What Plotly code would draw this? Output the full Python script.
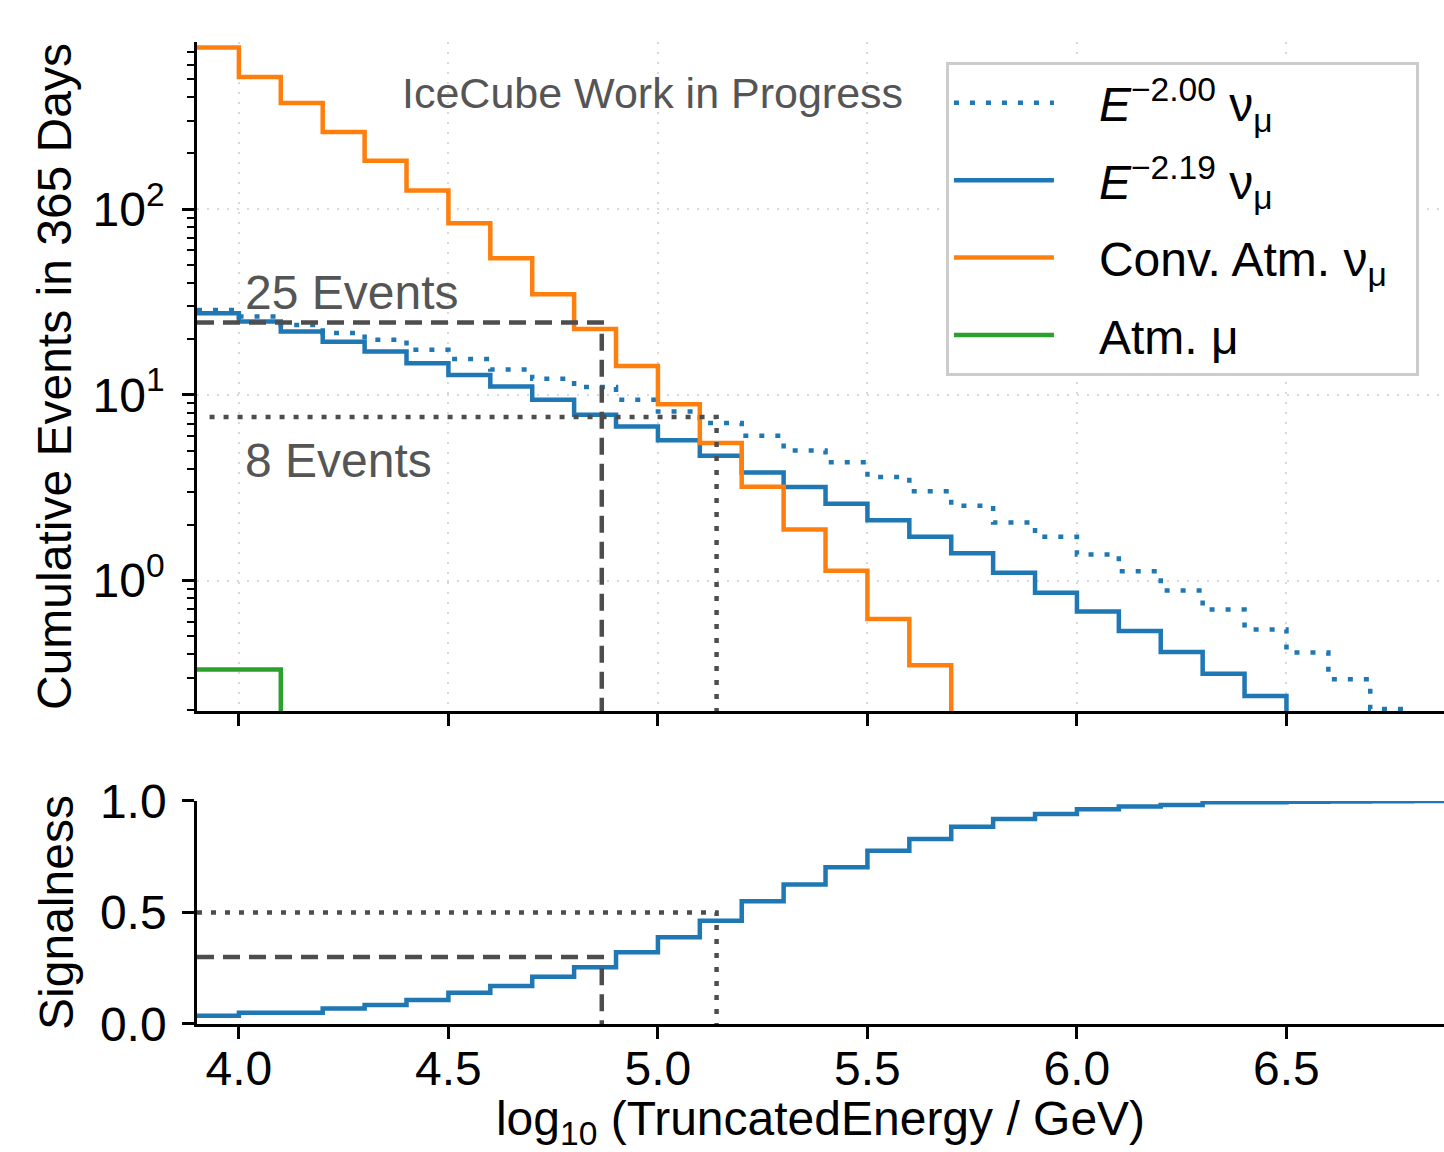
import plotly.graph_objects as go

# ---------------- data ----------------
bin_edges = [3.9, 4.0, 4.1, 4.2, 4.3, 4.4, 4.5, 4.6, 4.7, 4.8, 4.9, 5.0, 5.1, 5.2, 5.3,
             5.4, 5.5, 5.6, 5.7, 5.8, 5.9, 6.0, 6.1, 6.2, 6.3, 6.4, 6.5, 6.6, 6.7, 6.8, 6.9]

# cumulative events in 365 days, per lower bin edge
astro_e200 = [28.6, 26.4, 23.8, 21.5, 19.8, 17.5, 15.6, 13.7, 12.2, 11.0, 9.4, 8.13, 7.05,
              6.02, 5.02, 4.33, 3.61, 3.02, 2.53, 2.05, 1.72, 1.38, 1.12, 0.884, 0.698,
              0.545, 0.409, 0.294, 0.203, 0.15]
astro_e219 = [27.5, 24.8, 21.9, 19.3, 17.1, 14.8, 12.8, 11.1, 9.4, 7.8, 6.76, 5.7, 4.7,
              3.82, 3.19, 2.59, 2.11, 1.72, 1.40, 1.10, 0.86, 0.68, 0.534, 0.412, 0.315,
              0.239, 0.18]
conv_atm = [741, 514, 373, 260, 182, 126, 83.8, 54.3, 34.8, 22.6, 14.3, 8.9, 5.5, 3.2,
            1.88, 1.13, 0.62, 0.35, 0.17]
atm_mu = [0.332, 0.332, 0.1]

signalness = [0.037, 0.051, 0.051, 0.070, 0.085, 0.108, 0.140, 0.170, 0.212, 0.254,
              0.322, 0.389, 0.463, 0.550, 0.625, 0.703, 0.777, 0.830, 0.885, 0.919,
              0.942, 0.963, 0.975, 0.982, 0.994, 0.994, 0.997, 0.998, 0.999, 1.0]

# reference cuts
cut_25_x, cut_25_events, cut_25_signal = 4.866, 24.5, 0.30
cut_8_x, cut_8_events, cut_8_signal = 5.14, 7.6, 0.50

x_ticks = [4.0, 4.5, 5.0, 5.5, 6.0, 6.5]
y_ticks = [1, 10, 100]
y_ticktext = ["10<sup>0</sup>", "10<sup>1</sup>", "10<sup>2</sup>"]
y_minor_ticks = [0.2, 0.3, 0.4, 0.5, 0.6, 0.7, 0.8, 0.9,
                 2, 3, 4, 5, 6, 7, 8, 9,
                 20, 30, 40, 50, 60, 70, 80, 90,
                 200, 300, 400, 500, 600, 700]
y2_ticks = [0.0, 0.5, 1.0]

# ---------------- styling ----------------
BLUE = "#1f77b4"
ORANGE = "#ff7f0e"
GREEN = "#2ca02c"
REF = "#4d4d4d"
FONT = "Liberation Sans, Arial, Helvetica, sans-serif"
FS = 48
LW = 4.5
PAD = "\u2002\u2004"
TAIL = "\u2002"


def step_xy(values):
    xs = bin_edges[:len(values) + 1]
    ys = list(values) + [values[-1]]
    return xs, ys


fig = go.Figure()

series = [
    ("<i>E</i><sup>−2.00</sup> ν<sub>μ</sub>", astro_e200, BLUE, "5px,11px"),
    ("<i>E</i><sup>−2.19</sup> ν<sub>μ</sub>", astro_e219, BLUE, "solid"),
    ("Conv. Atm. ν<sub>μ</sub>", conv_atm, ORANGE, "solid"),
    ("Atm. μ", atm_mu, GREEN, "solid"),
]
for i, (name, vals, color, dash) in enumerate(series):
    xs, ys = step_xy(vals)
    fig.add_trace(go.Scatter(x=xs, y=ys, mode="lines", name=PAD + name + TAIL,
                             legendgroup=f"g{i}",
                             line=dict(color=color, width=LW, dash=dash, shape="hv"),
                             xaxis="x", yaxis="y"))

# reference lines top panel
fig.add_trace(go.Scatter(x=[bin_edges[0], cut_25_x, cut_25_x], y=[cut_25_events, cut_25_events, 0.05],
                         mode="lines", showlegend=False,
                         line=dict(color=REF, width=LW, dash="17px,9px"), xaxis="x", yaxis="y"))
fig.add_trace(go.Scatter(x=[bin_edges[0] + 0.03, cut_8_x, cut_8_x], y=[cut_8_events, cut_8_events, 0.05],
                         mode="lines", showlegend=False,
                         line=dict(color=REF, width=LW, dash="5px,9px"), xaxis="x", yaxis="y"))

# signalness panel
xs, ys = step_xy(signalness)
fig.add_trace(go.Scatter(x=xs, y=ys, mode="lines", showlegend=False,
                         line=dict(color=BLUE, width=LW, shape="hv"), xaxis="x2", yaxis="y2"))
fig.add_trace(go.Scatter(x=[bin_edges[0], cut_25_x, cut_25_x], y=[cut_25_signal, cut_25_signal, 0],
                         mode="lines", showlegend=False,
                         line=dict(color=REF, width=LW, dash="17px,9px"), xaxis="x2", yaxis="y2"))
fig.add_trace(go.Scatter(x=[bin_edges[0], cut_8_x, cut_8_x], y=[cut_8_signal, cut_8_signal, 0],
                         mode="lines", showlegend=False,
                         line=dict(color=REF, width=LW, dash="5px,9px"), xaxis="x2", yaxis="y2"))

x_range = [3.9, 6.876]
axis_common = dict(showline=True, linecolor="black", linewidth=2.5, ticks="outside",
                   ticklen=12, tickwidth=2.5, tickcolor="black", zeroline=False,
                   tickfont=dict(family=FONT, size=FS, color="black"))

fig.update_layout(
    width=1444, height=1152,
    margin=dict(l=197, r=0, t=42, b=128),
    paper_bgcolor="white", plot_bgcolor="white",
    font=dict(family=FONT, size=FS, color="black"),
    xaxis=dict(domain=[0, 1], anchor="y", range=x_range, tickvals=x_ticks,
               showticklabels=False, showgrid=True, gridcolor="#d9d9d9", gridwidth=2,
               griddash="2px,8px", **axis_common),
    yaxis=dict(domain=[0.3187, 1.0], anchor="x", type="log", range=[-0.703, 2.90],
               tickvals=y_ticks, ticktext=y_ticktext, showgrid=True, gridcolor="#d9d9d9",
               gridwidth=2, griddash="2px,8px", ticklabelstandoff=8,
               minor=dict(tickvals=y_minor_ticks, ticks="outside", ticklen=7,
                          tickwidth=1.5, tickcolor="black", showgrid=False),
               title=dict(text="Cumulative Events in 365 Days", standoff=6,
                          font=dict(family=FONT, size=FS, color="black")),
               **axis_common),
    xaxis2=dict(domain=[0, 1], anchor="y2", range=x_range, tickvals=x_ticks,
                tickformat=".1f", showgrid=False, matches="x", ticklabelstandoff=-11,
                title=dict(text="log<sub>10</sub> (TruncatedEnergy / GeV)", standoff=11,
                           font=dict(family=FONT, size=FS, color="black")),
                **axis_common),
    yaxis2=dict(domain=[0, 0.2271], anchor="x2", range=[0, 1], tickvals=y2_ticks,
                tickformat=".1f", showgrid=False, ticklabelstandoff=6,
                title=dict(text="Signalness", standoff=12,
                           font=dict(family=FONT, size=FS, color="black")),
                **axis_common),
    legend=dict(x=0.6006, y=0.9796, xanchor="left", yanchor="top",
                bgcolor="white", bordercolor="#cccccc", borderwidth=3,
                font=dict(family=FONT, size=FS, color="black"),
                itemwidth=100, tracegroupgap=12, traceorder="grouped"),
    annotations=[
        dict(text="IceCube Work in Progress", xref="paper", yref="paper", x=0.365, y=0.948,
             xanchor="center", yanchor="middle", showarrow=False,
             font=dict(family=FONT, size=43, color="#555555")),
        dict(text="25 Events", xref="paper", yref="paper", x=(243 - 197) / 1247,
             y=(1024 - 292) / 982, xanchor="left", yanchor="middle", showarrow=False,
             font=dict(family=FONT, size=FS, color="#555555")),
        dict(text="8 Events", xref="paper", yref="paper", x=(243 - 197) / 1247,
             y=(1024 - 460) / 982, xanchor="left", yanchor="middle", showarrow=False,
             font=dict(family=FONT, size=FS, color="#555555")),
    ],
)

fig.write_html("out.html", config={"displayModeBar": False},
               post_script="document.body.style.margin='0';")
